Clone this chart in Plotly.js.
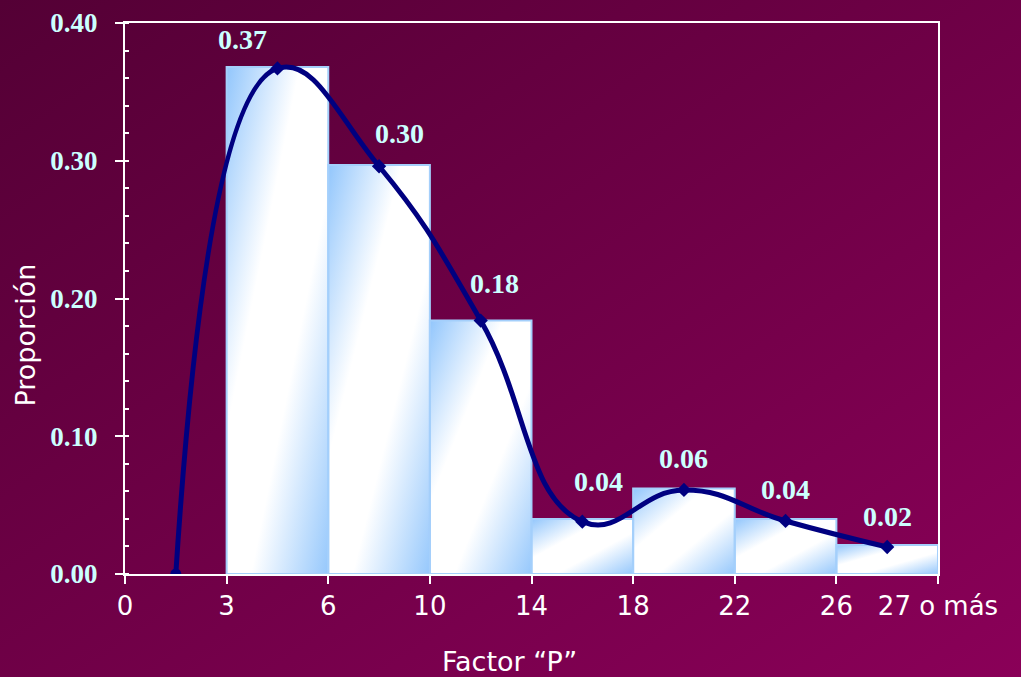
<!DOCTYPE html>
<html>
<head>
<meta charset="utf-8">
<script src="https://cdn.plot.ly/plotly-3.0.1.min.js"></script>
<style>
html,body{margin:0;padding:0;}
body{width:1021px;height:677px;overflow:hidden;background:linear-gradient(to bottom right,#540035,#8a0058);}
#chart{width:1021px;height:677px;}
</style>
</head>
<body>
<div id="chart"></div>
<script>
// ---- data ----
const xTickLabels = ["0", "3", "6", "10", "14", "18", "22", "26", "27 o más"];
const barValues = [0.368, 0.297, 0.184, 0.040, 0.062, 0.040, 0.021];
const curveValues = [0, 0.367, 0.296, 0.184, 0.038, 0.061, 0.0385, 0.0196];
const barLabels = barValues.map(v => v.toFixed(2));
const xTitle = 'Factor “P”';
const yTitle = 'Proporción';

// ---- styling tweaks (label nudges in pixels) ----
const labelXShift = [-35, 20, 14, 16, 0, 0, 0];
const labelYShift = [28, 31, 37, 37, 30, 29, 29];

const tickIdx = xTickLabels.map((_, i) => i);
const barX = barValues.map((_, i) => i + 1.5);
const curveX = curveValues.map((_, i) => i + 0.5);
const curveSymbols = curveValues.map((_, i) => i === 0 ? 'circle' : 'diamond');

const gradSvg = "<svg xmlns='http://www.w3.org/2000/svg' width='100' height='100' viewBox='0 0 100 100' preserveAspectRatio='none'>" +
  "<defs><linearGradient id='g' x1='0' y1='0' x2='1' y2='1'>" +
  "<stop offset='0' stop-color='#92c6fc'/><stop offset='0.36' stop-color='#ffffff'/>" +
  "<stop offset='0.62' stop-color='#ffffff'/><stop offset='1' stop-color='#96c8fc'/>" +
  "</linearGradient></defs><rect width='100' height='100' fill='url(#g)'/></svg>";
const gradSrc = 'data:image/svg+xml;base64,' + btoa(gradSvg);

const images = barValues.map((v, i) => ({
  source: gradSrc, xref: 'x', yref: 'y',
  x: barX[i] - 0.5, y: v, sizex: 1, sizey: v,
  xanchor: 'left', yanchor: 'top', sizing: 'stretch', layer: 'below'
}));

const annotations = barValues.map((v, i) => ({
  x: barX[i], y: v, xref: 'x', yref: 'y', text: barLabels[i], showarrow: false,
  xshift: labelXShift[i], yshift: labelYShift[i],
  font: {family: 'Liberation Serif', size: 28, color: '#ccffff', weight: 'bold'}
}));
annotations.push({
  xref: 'paper', yref: 'paper', x: 0.5, y: 0, xshift: -22, yshift: -87,
  text: xTitle, showarrow: false, xanchor: 'center', yanchor: 'middle',
  font: {family: 'DejaVu Sans', size: 27, color: '#ffffff'}
});
annotations.push({
  xref: 'paper', yref: 'paper', x: 0, y: 0.5, xshift: -100, yshift: -37,
  text: yTitle, showarrow: false, textangle: -90, xanchor: 'center', yanchor: 'middle',
  font: {family: 'DejaVu Sans', size: 27, color: '#ffffff'}
});

const traces = [
  {
    type: 'bar', x: barX, y: barValues, width: 1,
    marker: {color: 'rgba(255,255,255,0)', line: {color: '#a4cffb', width: 2}},
    hoverinfo: 'skip', showlegend: false
  },
  {
    type: 'scatter', mode: 'lines+markers', x: curveX, y: curveValues,
    line: {shape: 'spline', smoothing: 1.3, color: '#000080', width: 5},
    marker: {symbol: curveSymbols, size: 11, color: '#000080'},
    showlegend: false
  }
];

const layout = {
  width: 1021, height: 677,
  paper_bgcolor: 'rgba(0,0,0,0)', plot_bgcolor: 'rgba(0,0,0,0)',
  margin: {l: 125, r: 83, t: 23, b: 103},
  showlegend: false,
  xaxis: {
    range: [0, 8], tickvals: tickIdx, ticktext: xTickLabels,
    showgrid: false, zeroline: false,
    showline: true, linecolor: '#ffffff', linewidth: 2, mirror: true,
    ticks: 'outside', ticklen: 8, tickwidth: 2, tickcolor: '#ffffff',
    tickfont: {family: 'DejaVu Sans', size: 26, color: '#ffffff'}
  },
  yaxis: {
    range: [0, 0.4], dtick: 0.1, tickformat: '.2f',
    showgrid: false, zeroline: false,
    showline: true, linecolor: '#ffffff', linewidth: 2, mirror: true,
    ticks: 'outside', ticklen: 8, tickwidth: 2, tickcolor: '#ffffff',
    minor: {ticks: 'inside', dtick: 0.02, ticklen: 4, tickwidth: 2, tickcolor: '#ffffff'},
    tickfont: {family: 'Liberation Serif', size: 27, color: '#ccffff', weight: 'bold'},
    ticklabelstandoff: 12
  },
  images: images,
  annotations: annotations
};

Plotly.newPlot('chart', traces, layout, {displayModeBar: false, staticPlot: true});
</script>
</body>
</html>
